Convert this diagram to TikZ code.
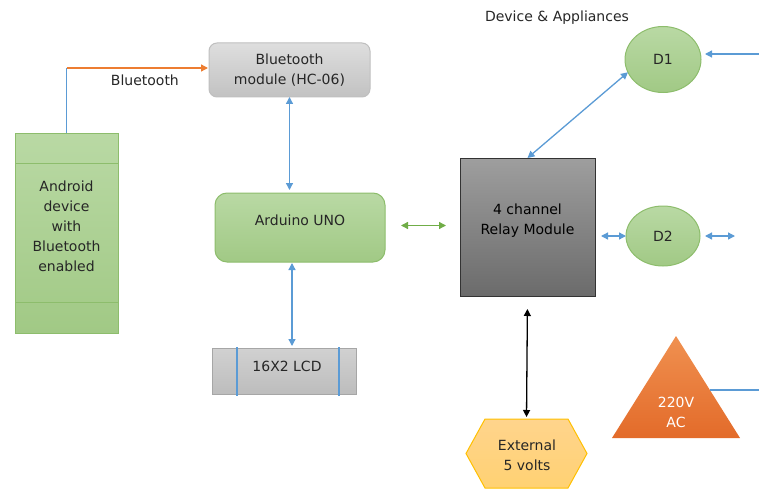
\documentclass[tikz,border=0pt]{standalone}
\usepackage{fontspec}
\setmainfont{DejaVu Sans}
\usetikzlibrary{arrows.meta,positioning,shapes.geometric}

\definecolor{lineblue}{HTML}{5B9BD5}
\definecolor{linegreen}{HTML}{70AD47}
\definecolor{lineorange}{HTML}{ED7D31}
\definecolor{greentop}{HTML}{B9D9A4}
\definecolor{greenbot}{HTML}{A1C985}
\definecolor{hexborder}{HTML}{FFC000}

\tikzset{
  txt/.style={inner sep=0pt, align=center, text=black!85,
    font=\fontsize{14}{20}\selectfont},
  box/.style={txt, draw, line width=1pt, outer sep=0pt},
  greenbox/.style={box, draw=linegreen!80, top color=greentop, bottom color=greenbot},
  bluearrow/.style={draw=lineblue, line width=1.3pt, -{Triangle[length=7pt,width=7pt]}},
  bluearrows/.style={bluearrow, {Triangle[length=7pt,width=7pt]}-{Triangle[length=7pt,width=7pt]}},
}

\begin{document}
\begin{tikzpicture}[x=1pt,y=-1pt]
    \useasboundingbox (0,0) rectangle (759,492);

    \node[txt] (title) at (557,18) {Device \& Appliances};

    % telefono Android
    \node[greenbox, minimum width=103pt, minimum height=200pt] (android) at (66.5,233) {};
    \draw[linegreen!80, line width=1pt] ([yshift=-30pt]android.north west) -- ([yshift=-30pt]android.north east);
    \draw[linegreen!80, line width=1pt] ([yshift=31pt]android.south west) -- ([yshift=31pt]android.south east);
    \node[txt] (androidtxt) at (66.5,226) {Android\\device\\with\\Bluetooth\\enabled};

    % modulo Bluetooth
    \node[box, draw=black!25, rounded corners=8pt, top color=black!13, bottom color=black!24,
      minimum width=161pt, minimum height=54pt] (bt) at (289.5,70) {Bluetooth\\module (HC-06)};

    % Arduino
    \node[greenbox, rounded corners=12pt, minimum width=170pt, minimum height=69pt] (arduino) at (300,227.5) {};
    \node[txt] (arduinotxt) at (300,220) {Arduino UNO};

    % LCD
    \node[box, draw=black!35, top color=black!18, bottom color=black!26,
      minimum width=144pt, minimum height=46pt] (lcd) at (284,371) {};
    \node[txt] (lcdtxt) at (287,366) {16X2 LCD};
    \draw[lineblue, line width=1.3pt] ([xshift=-47pt,yshift=1pt]lcd.north) -- ([xshift=-47pt,yshift=-2pt]lcd.south);
    \draw[lineblue, line width=1.3pt] ([xshift=55pt,yshift=1pt]lcd.north) -- ([xshift=55pt,yshift=-2pt]lcd.south);

    % modulo de reles
    \node[box, draw=black!80, top color=black!38, bottom color=black!58,
      minimum width=135pt, minimum height=138pt] (relay) at (527.5,227) {};
    \node[txt, text=black] (relaytxt) at (527.5,221) {4 channel\\Relay Module};

    % dispositivos
    \node[greenbox, ellipse, minimum width=76pt, minimum height=66pt] (d1) at (663,59.5) {D1};
    \node[greenbox, ellipse, minimum width=74pt, minimum height=60pt] (d2) at (663,236) {D2};

    % fuente externa
    \shade[top color=yellow!25!orange!45!white, bottom color=yellow!35!orange!55!white, draw=hexborder, line width=1pt]
      (466,453.5) -- (485,419) -- (568,419) -- (587,453.5) -- (568,488) -- (485,488) -- cycle;
    \coordinate (exttop) at (526.5,419);
    \node[txt] (ext) at (527,455) {External\\5 volts};

    % 220V AC
    \shade[top color=lineorange!85!white, bottom color=lineorange!90!red!95!black]
      (676,336) -- (740,438) -- (612,438) -- cycle;
    \node[txt, text=white] (ac) at (676,412) {220V\\AC};

    % conexiones
    \coordinate (btcorner) at (66.5,68);
    \draw[lineblue, line width=1.3pt] (android.north) -- (btcorner);
    \draw[bluearrow, draw=lineorange, shorten >=1pt] (btcorner) -- (btcorner -| bt.west)
      node[txt, pos=0.55, below=6pt] (btlabel) {Bluetooth};

    \draw[bluearrows, shorten >=3pt] (bt.south) -- (bt.south |- arduino.north);
    \draw[bluearrows, shorten <=1pt, shorten >=2pt] ([xshift=-8pt]arduino.south) -- ([xshift=-8pt]arduino.south |- lcd.north);
    \draw[bluearrows, draw=linegreen, shorten <=16pt, shorten >=14pt] ([yshift=2pt]arduino.east) -- ([yshift=2pt]arduino.east -| relay.west);

    \draw[bluearrows] (relay.north) -- (d1.200);
    \coordinate (d1in) at (759,54);
    \draw[bluearrow, shorten >=4pt] (d1in) -- (d1in -| d1.east);

    \draw[bluearrows, shorten <=6pt] (d2.west -| relay.east) -- (d2.west);
    \coordinate (d2out) at (735,236);
    \draw[bluearrows, shorten <=5pt] (d2.east) -- (d2out);

    \draw[bluearrows, draw=black, shorten <=13pt, shorten >=2pt] (relay.south) -- (exttop);

    \coordinate (acside) at (710,390);
    \coordinate (acout) at (759,390);
    \draw[lineblue, line width=1.3pt] (acside) -- (acout);
  \end{tikzpicture}
\end{document}
